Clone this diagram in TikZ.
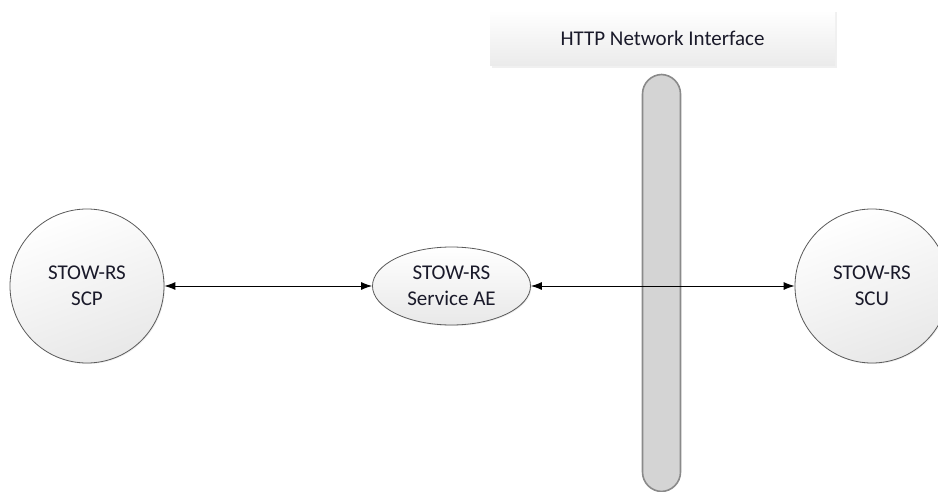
\documentclass[tikz,border=0pt]{standalone}
\usepackage{fontspec}
\setmainfont{Carlito}
\usetikzlibrary{shapes.geometric,arrows.meta,shadows}
\definecolor{txt}{HTML}{1A1A2A}
\definecolor{edge}{HTML}{5A5A5A}
\definecolor{barfill}{HTML}{D4D4D4}
\definecolor{barline}{HTML}{8A8A8A}
\tikzset{
  endpoint/.style={circle, draw=edge, line width=0.8pt, minimum size=154pt, inner sep=0pt,
    top color=white, bottom color=black!9, shading angle=20, align=center, font=\fontsize{21}{26}\selectfont, text=txt,
    drop shadow={shadow xshift=1pt, shadow yshift=-1pt, opacity=0.15}},
  service/.style={ellipse, draw=edge, line width=0.8pt, minimum width=158pt, minimum height=78pt, inner sep=0pt,
    top color=white, bottom color=black!9, align=center, font=\fontsize{21}{26}\selectfont, text=txt,
    drop shadow={shadow xshift=1pt, shadow yshift=-1pt, opacity=0.15}},
  netbar/.style={rectangle, rounded corners=19.5pt, draw=barline, line width=1.6pt, fill=barfill,
    minimum width=38pt, minimum height=417pt, inner sep=0pt},
  header/.style={rectangle, top color=white, bottom color=black!8, minimum width=345pt, minimum height=56pt,
    inner sep=0pt, font=\fontsize{21}{26}\selectfont, text=txt,
    drop shadow={shadow xshift=1.5pt, shadow yshift=-2pt, opacity=0.12}},
  link/.style={line width=0.9pt, black, {Latex[length=11pt,width=8pt]}-{Latex[length=11pt,width=8pt]}}
}
\begin{document}
\begin{tikzpicture}[x=1pt,y=-1pt]
\useasboundingbox (0,0) rectangle (938,492);
\clip (0,0) rectangle (938,492);
\node[header] (hdr) at (662.5,38) {HTTP Network Interface};
\node[netbar] (bar) at (661.5,283) {};
\node[endpoint] (scp) at (87,286) {STOW-RS\\SCP};
\node[service] (ae) at (451.5,286) {STOW-RS\\Service AE};
\node[endpoint] (scu) at (872,286) {STOW-RS\\SCU};
\draw[link] (scp) -- (ae);
\draw[link] (ae) -- (scu);
\end{tikzpicture}
\end{document}
